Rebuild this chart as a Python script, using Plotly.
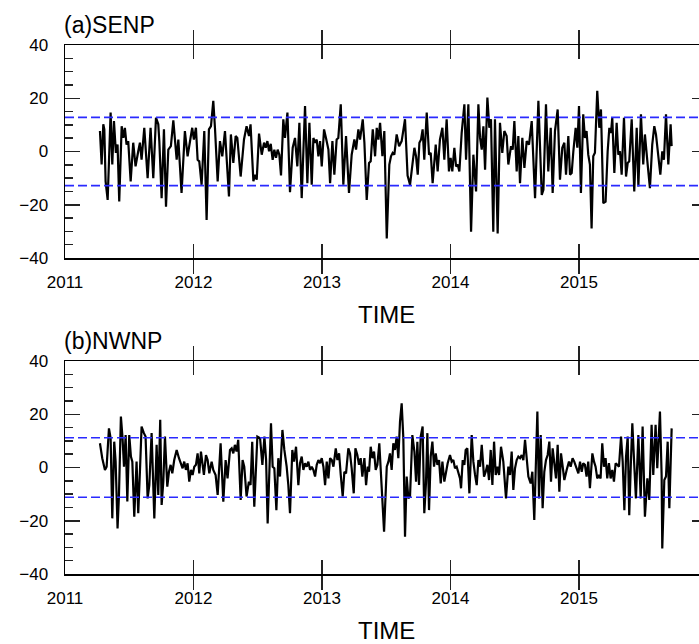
import plotly.graph_objects as go

# ---------------- data ----------------
a_time = [
    2011.272, 2011.285, 2011.298, 2011.306, 2011.316, 2011.332, 2011.355, 2011.368, 2011.381, 2011.396,
    2011.409, 2011.422, 2011.441, 2011.454, 2011.466, 2011.479, 2011.492, 2011.511, 2011.531, 2011.549,
    2011.570, 2011.583, 2011.596, 2011.617, 2011.643, 2011.666, 2011.687, 2011.708, 2011.726, 2011.734,
    2011.752, 2011.770, 2011.786, 2011.804, 2011.824, 2011.843, 2011.869, 2011.882, 2011.907, 2011.933,
    2011.954, 2011.972, 2011.990, 2012.003, 2012.019, 2012.032, 2012.045, 2012.063, 2012.084, 2012.102,
    2012.120, 2012.136, 2012.154, 2012.167, 2012.188, 2012.206, 2012.224, 2012.245, 2012.258, 2012.276,
    2012.291, 2012.310, 2012.328, 2012.341, 2012.367, 2012.393, 2012.413, 2012.432, 2012.444,
    2012.466, 2012.479, 2012.492, 2012.510, 2012.531, 2012.549, 2012.562, 2012.575, 2012.588, 2012.601,
    2012.616, 2012.629, 2012.642, 2012.655, 2012.668, 2012.681, 2012.699, 2012.712, 2012.731, 2012.751,
    2012.772, 2012.790, 2012.808, 2012.824, 2012.842, 2012.855, 2012.868, 2012.886, 2012.902, 2012.920,
    2012.933, 2012.946, 2012.959, 2012.972, 2012.985, 2012.998, 2013.016, 2013.031, 2013.050, 2013.063,
    2013.081, 2013.096, 2013.114, 2013.127, 2013.146, 2013.166, 2013.187, 2013.210, 2013.231, 2013.252,
    2013.265, 2013.283, 2013.296, 2013.317, 2013.330, 2013.348, 2013.366, 2013.379, 2013.395, 2013.413,
    2013.426, 2013.439, 2013.452, 2013.470, 2013.485, 2013.504, 2013.524, 2013.537, 2013.550, 2013.563,
    2013.581, 2013.600, 2013.620, 2013.646, 2013.666,
    2013.685, 2013.703, 2013.719, 2013.732, 2013.745, 2013.758, 2013.771, 2013.783, 2013.796, 2013.815,
    2013.833, 2013.846, 2013.861, 2013.885, 2013.900, 2013.918, 2013.937, 2013.952, 2013.970, 2013.988,
    2014.001, 2014.014, 2014.030, 2014.043, 2014.056, 2014.069, 2014.087, 2014.108, 2014.121, 2014.139,
    2014.160, 2014.178, 2014.199, 2014.217, 2014.230, 2014.243, 2014.256, 2014.269, 2014.287, 2014.302,
    2014.315, 2014.333, 2014.346, 2014.367, 2014.385, 2014.403, 2014.419, 2014.437, 2014.450, 2014.471,
    2014.484, 2014.497, 2014.515, 2014.528, 2014.541, 2014.559, 2014.575, 2014.593, 2014.611, 2014.632,
    2014.658, 2014.684, 2014.710, 2014.723, 2014.743, 2014.761, 2014.780, 2014.795, 2014.813, 2014.834,
    2014.852, 2014.870, 2014.886,
    2014.899, 2014.917, 2014.930, 2014.943, 2014.956, 2014.974, 2014.987, 2015.000, 2015.015, 2015.033,
    2015.046, 2015.059, 2015.072, 2015.085, 2015.098, 2015.111, 2015.124, 2015.142, 2015.158, 2015.171,
    2015.189, 2015.207, 2015.223, 2015.236, 2015.249, 2015.259, 2015.275, 2015.293, 2015.306, 2015.319,
    2015.332, 2015.350, 2015.366, 2015.379, 2015.391, 2015.410, 2015.430, 2015.449, 2015.462, 2015.482,
    2015.500, 2015.513, 2015.532, 2015.552, 2015.570, 2015.586, 2015.599, 2015.617, 2015.633, 2015.648,
    2015.661, 2015.677, 2015.695, 2015.713, 2015.721,
]
a_val = [
    7.7, -4.9, 10.2, 8.3, -11.2, -18.2, 14.6, -4.9, 11.4, -0.5,
    2.6, -18.8, 9.5, 5.1, 8.9, 2.6, 3.9, -11.2, 3.3, -5.6,
    0.1, 3.3, -3.1, 8.9, -10.0, 8.9, -10.0, 12.7, 10.2, 3.9,
    -17.5, 8.3, -20.7, 0.7, 2.0, 11.7, -3.1, 4.5, -15.6, 7.7,
    -1.8, 4.5, 8.9, 4.5, 8.9, -3.1, -3.7, -12.5, 7.7, -25.7,
    8.3, 9.5, 19.0, 8.9, -11.2, 3.9, -1.8, 7.7, -1.8, -16.9,
    6.4, -4.3, 5.8, 5.1, -9.4, 4.5, 9.5, 5.8, 10.2,
    -11.2, -8.7, -10.6, 6.7, -1.2, 3.3, 1.4, 3.9, 0.1, 2.9,
    -3.1, 0.7, -2.4, 0.7, -1.2, -9.0, 12.1, 5.1, 14.6, -15.3,
    1.4, 5.1, -5.6, 10.8, -17.5, 0.1, 17.1, -11.9, 10.8, -12.5,
    5.1, 3.3, 4.5, -1.8, 3.9, -5.6, 8.3, 5.1, 0.7, -11.9,
    3.9, -8.7, 4.5, 5.1, 17.7, -12.5, 5.8, -15.6, -1.2, 4.5,
    0.7, 8.3, 4.5, 12.1, 3.3, -18.2, -4.3, -3.7, 8.3, -1.8,
    8.9, 4.5, 10.8, -1.8, 7.7, -32.7, -4.9, -1.8, -0.5, -1.2,
    6.4, 2.0, 3.9, 12.1, -9.0,
    -12.5, -6.2, 1.4, -1.8, -8.7, 3.3, 4.5, 8.3, -3.1, 14.6,
    -1.2, -0.5, -11.9, 2.6, -7.5, 4.5, 8.9, -3.1, 12.1, -7.5,
    -2.4, -7.5, 1.4, -5.6, -4.9, -7.5, 7.0, 17.7, -3.1, 17.7,
    -30.1, -1.2, -15.0, 17.7, 5.1, 0.7, 9.5, -6.8, 20.3, 8.9,
    12.1, -30.1, 12.1, -30.8, 10.8, -0.5, 7.7, 5.8, -4.9, 2.0,
    0.7, 11.4, -7.5, 5.8, -11.9, 5.1, -6.2, 3.9, 2.6, 11.4,
    -17.5, 19.0, -16.3, -14.4, 17.7, -7.5, 8.9, -15.6, 7.7, 15.8,
    -10.6, 1.4, 3.3,
    -8.7, 5.8, -8.7, -8.1, 0.1, 8.9, 1.4, 17.1, -15.6, 14.0,
    5.1, 7.7, -1.2, -4.9, -28.9, -1.8, -0.5, 22.8, 8.9, 15.8,
    -19.4, -18.8, 0.1, 8.9, 7.0, 12.7, -8.1, 10.8, -1.2, 0.1,
    -8.7, 12.7, -9.4, -4.3, -3.7, 12.1, -15.0, 8.9, -13.1, 14.0,
    -4.9, 6.4, -3.7, -13.8, 2.6, 9.5, 6.4, -1.8, -8.7, 0.1,
    -3.1, 14.0, -4.9, 10.2, 2.0,
]

b_time = [
    2011.272, 2011.290, 2011.311, 2011.324, 2011.342, 2011.355, 2011.368, 2011.383, 2011.394, 2011.409,
    2011.420, 2011.435, 2011.448, 2011.459, 2011.472, 2011.485, 2011.500, 2011.513, 2011.524, 2011.539,
    2011.557, 2011.570, 2011.583, 2011.596, 2011.614, 2011.627, 2011.643, 2011.656, 2011.674, 2011.695,
    2011.713, 2011.726, 2011.741, 2011.752, 2011.765, 2011.778, 2011.796, 2011.809, 2011.822, 2011.835,
    2011.850, 2011.869, 2011.887, 2011.902, 2011.915, 2011.928, 2011.941, 2011.954, 2011.967, 2011.980,
    2011.993, 2012.006, 2012.019, 2012.032, 2012.045, 2012.058, 2012.068, 2012.081, 2012.097, 2012.110,
    2012.123, 2012.141, 2012.154, 2012.172, 2012.188, 2012.211, 2012.232, 2012.250, 2012.265, 2012.284,
    2012.297, 2012.310, 2012.322, 2012.335, 2012.348, 2012.367, 2012.382, 2012.395, 2012.413, 2012.431,
    2012.444, 2012.457, 2012.473,
    2012.497, 2012.518, 2012.536, 2012.552, 2012.565, 2012.577, 2012.590, 2012.603, 2012.616, 2012.629,
    2012.645, 2012.660, 2012.673, 2012.692, 2012.707, 2012.725, 2012.738, 2012.751, 2012.769, 2012.782,
    2012.798, 2012.816, 2012.829, 2012.842, 2012.855, 2012.868, 2012.881, 2012.894, 2012.907, 2012.920,
    2012.933, 2012.946, 2012.959, 2012.972, 2012.985, 2012.998, 2013.011, 2013.024, 2013.037, 2013.050,
    2013.063, 2013.076, 2013.089, 2013.107, 2013.120, 2013.133, 2013.146, 2013.161, 2013.174, 2013.187,
    2013.205, 2013.218, 2013.231, 2013.247, 2013.260, 2013.275, 2013.288, 2013.301, 2013.314, 2013.330,
    2013.343, 2013.356, 2013.366, 2013.379, 2013.392, 2013.405, 2013.418, 2013.431, 2013.446, 2013.459,
    2013.483, 2013.504, 2013.517, 2013.529, 2013.542, 2013.555, 2013.568, 2013.581, 2013.594, 2013.607,
    2013.620, 2013.633, 2013.646,
    2013.659, 2013.672, 2013.685, 2013.703, 2013.719, 2013.732, 2013.742, 2013.755, 2013.768, 2013.783,
    2013.796, 2013.809, 2013.820, 2013.833, 2013.846, 2013.859, 2013.872, 2013.885, 2013.898, 2013.911,
    2013.924, 2013.937, 2013.952, 2013.965, 2013.978, 2013.996, 2014.009, 2014.022, 2014.035, 2014.048,
    2014.061, 2014.074, 2014.082, 2014.095, 2014.108, 2014.118, 2014.131, 2014.147, 2014.165, 2014.178,
    2014.191, 2014.204, 2014.217, 2014.230, 2014.243, 2014.261, 2014.274, 2014.287, 2014.300, 2014.313,
    2014.326, 2014.339, 2014.352, 2014.365, 2014.378, 2014.393, 2014.411, 2014.432, 2014.450, 2014.463,
    2014.476, 2014.489, 2014.502, 2014.515, 2014.528, 2014.541, 2014.554, 2014.567, 2014.580, 2014.593,
    2014.606, 2014.624, 2014.637, 2014.652, 2014.663, 2014.676, 2014.689, 2014.702, 2014.717, 2014.730,
    2014.743, 2014.756, 2014.769, 2014.782, 2014.795, 2014.808, 2014.821, 2014.834, 2014.847, 2014.860,
    2014.873, 2014.886,
    2014.904, 2014.922, 2014.935, 2014.950, 2014.963, 2014.982, 2014.995, 2015.008, 2015.021, 2015.033,
    2015.046, 2015.059, 2015.072, 2015.085, 2015.104, 2015.117, 2015.129, 2015.142, 2015.155, 2015.168,
    2015.181, 2015.194, 2015.207, 2015.220, 2015.233, 2015.246, 2015.259, 2015.272, 2015.285, 2015.298,
    2015.311, 2015.327, 2015.340, 2015.353, 2015.366, 2015.379, 2015.391, 2015.404, 2015.415, 2015.430,
    2015.443, 2015.462, 2015.480, 2015.495, 2015.513, 2015.532, 2015.547, 2015.565, 2015.578, 2015.596,
    2015.609, 2015.630, 2015.643, 2015.648, 2015.664, 2015.677, 2015.690, 2015.703, 2015.721,
]
b_val = [
    9.1, 3.5, -0.9, 0.3, 14.7, 11.0, -19.1, 9.7, 2.2, -22.9,
    -10.3, 19.1, 11.0, 0.3, 12.2, -12.8, 12.2, 4.1, 2.2, -18.5,
    2.2, -17.2, -1.6, 15.4, 12.9, 11.6, -11.6, -6.6, 12.9, -19.1,
    8.5, -10.3, 17.9, -14.1, -5.3, 11.6, -7.2, -1.6, 1.0, -2.2,
    2.8, 6.6, 3.5, 1.6, -0.3, 2.2, -0.9, 1.6, -5.3, -0.9,
    -2.8, 0.3, 1.0, 5.3, -2.2, 6.0, 2.8, -2.8, 4.7, 2.8,
    -2.2, 2.2, -0.9, -2.8, -10.3, 9.1, -12.8, 2.8, -4.1, 6.6,
    7.2, 5.3, 8.5, 6.0, 10.4, -12.2, 2.8, 0.3, -10.9, -5.3,
    -6.6, 9.7, -14.7,
    11.6, 11.0, 1.0, 11.6, 2.8, -21.0, 2.2, 16.6, 0.3, -0.3,
    -16.0, 3.5, -3.4, 14.1, 6.6, 0.3, -6.6, -17.2, 6.6, 2.2,
    7.8, -6.6, 1.6, 4.1, -0.9, 1.6, 0.3, 2.2, -0.9, 0.3,
    -0.9, -3.4, 1.0, 2.8, 1.6, 3.5, 0.3, -6.6, 2.2, -4.1,
    3.5, 2.8, 0.3, 7.2, 2.8, 5.3, -2.8, -10.9, -1.6, -2.2,
    7.2, 5.3, -0.3, -9.7, 7.2, 4.7, 1.0, 3.5, -3.4, 3.5,
    -6.6, 0.3, -1.6, 7.8, 3.5, 6.0, -0.9, 1.0, 9.1, -2.8,
    -24.1, 0.3, 2.2, 5.3, -0.9, 9.1, 6.6, 11.6, 3.5, 17.2,
    24.1, 11.0, -26.0,
    -3.4, -11.6, -10.9, 12.2, 6.0, -5.3, 9.7, -6.6, 11.6, 15.4,
    -17.2, -6.0, 12.9, -16.0, 4.1, 9.7, 0.3, 5.3, 1.0, 2.8,
    -6.0, 2.2, -5.3, -0.9, 1.6, 4.7, 2.2, 2.8, -0.3, 0.3,
    -1.6, -4.1, -7.8, 2.8, 1.0, 6.6, 7.2, -9.7, 12.2, 2.2,
    -2.8, -6.6, 2.8, 0.3, 8.5, -3.4, -1.6, 1.0, -4.7, 6.6,
    -6.6, 9.7, -2.8, 0.3, -2.8, 7.8, 2.2, -11.6, 0.3, -2.8,
    6.0, -8.4, -0.3, 2.8, 4.1, 3.5, 4.7, 2.8, 10.4, 3.5,
    -3.4, -6.0, -1.6, -19.7, -2.8, 21.0, -11.6, 12.2, -15.3, -1.6,
    2.8, 4.7, 9.7, -5.3, 7.2, 2.2, -4.1, 8.5, -9.1, 5.3,
    0.3, -4.7,
    -0.9, 2.2, 0.3, 3.5, 2.2, -0.9, -2.2, 2.2, -1.6, 1.6,
    1.0, -3.4, 2.2, -7.8, 5.3, 2.2, 0.3, -4.1, -2.8, -4.1,
    9.1, 0.3, 3.5, -4.1, 1.6, -4.1, -0.9, -5.3, 1.6, 1.0,
    0.3, 11.6, 2.2, -16.0, 4.1, 11.6, -17.9, 2.2, 16.6, 1.0,
    -11.6, 12.2, -11.6, 15.4, -18.5, -4.1, -12.2, 16.0, -2.8, 16.0,
    -0.3, 21.0, -2.8, -30.4, -4.7, -3.4, 9.7, -15.3, 14.7,
]

a_threshold = 12.8
b_threshold = 11.2

year_ticks = [2011, 2012, 2013, 2014, 2015]
year_labels = ["2011", "2012", "2013", "2014", "2015"]
y_ticks = [-40, -20, 0, 20, 40]

panel_titles = ["(a)SENP", "(b)NWNP"]
x_title = "TIME"

# ---------------- figure ----------------
W, H = 699, 644
ML, MR, MT, MB = 65, 0, 45, 70
plot_h = H - MT - MB
plot_w = W - ML - MR
x_left, x_right = 2011.0, 2011.0 + plot_w / 128.5


def py(pix):
    """pixel row -> paper y"""
    return (H - MB - pix) / plot_h


def px(pix):
    """pixel column -> paper x"""
    return (pix - ML) / plot_w


FONT = "Liberation Sans, Arial, Helvetica, sans-serif"

fig = go.Figure()

for thr, xa, ya in ((a_threshold, "x", "y3"), (b_threshold, "x2", "y4")):
    for s in (1, -1):
        fig.add_trace(go.Scatter(x=[x_left, x_right], y=[s * thr, s * thr], mode="lines",
                                 xaxis=xa, yaxis=ya,
                                 line=dict(color="#2a2aff", width=1.6, dash="9px,4px"),
                                 showlegend=False, hoverinfo="skip"))

fig.add_trace(go.Scatter(x=a_time, y=a_val, mode="lines", xaxis="x", yaxis="y",
                         line=dict(color="black", width=2.2), showlegend=False, hoverinfo="skip"))
fig.add_trace(go.Scatter(x=b_time, y=b_val, mode="lines", xaxis="x2", yaxis="y2",
                         line=dict(color="black", width=2.2), showlegend=False, hoverinfo="skip"))

xcommon = dict(range=[x_left, x_right], tickvals=year_ticks, ticktext=year_labels,
               ticks="inside", ticklen=14, tickwidth=1.5, tickcolor="#222",
               showline=True, linecolor="black", linewidth=1.5, mirror="allticks",
               showgrid=False, zeroline=False, ticklabelstandoff=8,
               tickfont=dict(family=FONT, size=17, color="black"))
yleft = dict(range=[-40, 40], tickvals=y_ticks, ticks="inside", ticklen=15, tickwidth=1.5,
             tickcolor="#222", showline=True, linecolor="black", linewidth=1.5, mirror=False,
             showgrid=False, zeroline=False, ticklabelstandoff=12,
             tickfont=dict(family=FONT, size=17, color="black"),
             minor=dict(dtick=5, ticks="inside", ticklen=8, tickwidth=1.5, tickcolor="#222",
                        showgrid=False))
yright = dict(range=[-40, 40], tickvals=y_ticks, ticks="inside", ticklen=7, tickwidth=1.5,
              tickcolor="#222", showline=False, showticklabels=False, showgrid=False,
              zeroline=False, side="right")

dom_a = [py(258), 1.0]
dom_b = [0.0, py(361)]

fig.update_layout(
    width=W, height=H,
    margin=dict(l=ML, r=MR, t=MT, b=MB, pad=0),
    paper_bgcolor="white", plot_bgcolor="white",
    showlegend=False,
    xaxis=dict(**xcommon, anchor="y"),
    xaxis2=dict(**xcommon, anchor="y2"),
    yaxis=dict(**yleft, domain=dom_a, anchor="x"),
    yaxis2=dict(**yleft, domain=dom_b, anchor="x2"),
    yaxis3=dict(**yright, overlaying="y", anchor="x"),
    yaxis4=dict(**yright, overlaying="y2", anchor="x2"),
)

ann = []
for title, pix in ((panel_titles[0], 25), (panel_titles[1], 341)):
    ann.append(dict(text=title, x=px(62), xref="paper", y=py(pix), yref="paper",
                    xanchor="left", yanchor="middle", showarrow=False,
                    font=dict(family=FONT, size=23, color="black")))
for pix in (314.5, 630):
    ann.append(dict(text=x_title, x=px(386), xref="paper", y=py(pix), yref="paper",
                    xanchor="center", yanchor="middle", showarrow=False,
                    font=dict(family=FONT, size=24, color="black")))
fig.update_layout(annotations=ann)

fig.write_html(
    "out.html",
    config={"displayModeBar": False, "staticPlot": True},
    post_script="document.body.style.margin='0';document.body.style.overflow='hidden';"
                "document.documentElement.style.overflow='hidden';",
)
